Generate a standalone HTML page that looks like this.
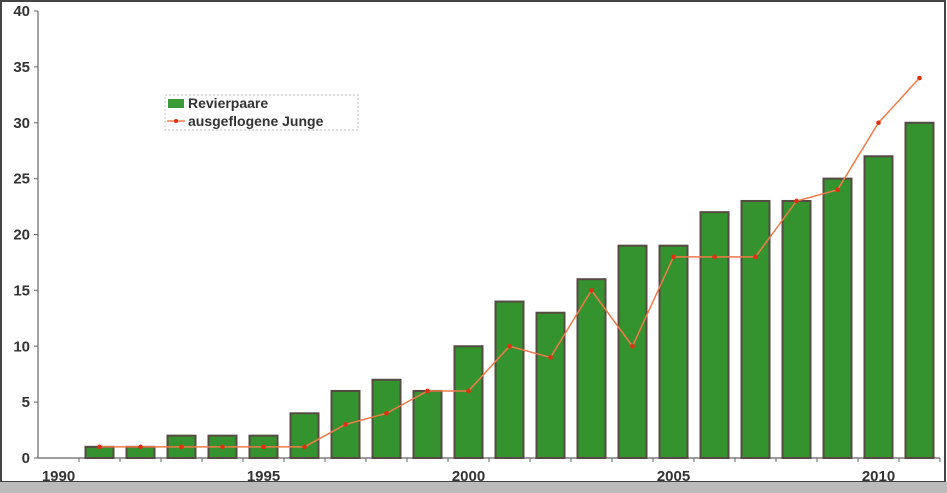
<!DOCTYPE html>
<html><head><meta charset="utf-8"><style>
html,body{margin:0;padding:0;background:#fff}
svg{display:block}
text{font-family:"Liberation Sans",sans-serif;font-weight:bold;fill:#333}
</style></head><body>
<svg width="947" height="493" viewBox="0 0 947 493">
<rect x="0" y="0" width="947" height="493" fill="#fff"/>
<rect x="1" y="1" width="944" height="481" fill="none" stroke="#444" stroke-width="2"/>
<rect x="0" y="482" width="947" height="11" fill="#bbb"/>
<g id="plot"></g>
<g>
<rect x="165" y="95" width="193" height="35" fill="#fff" stroke="#bbb" stroke-dasharray="2,2"/>
<rect x="168" y="99" width="16" height="9" fill="#3a9a3a"/>
<text x="188" y="108" font-size="14">Revierpaare</text>
<line x1="167" y1="121" x2="185" y2="121" stroke="#f07a4a" stroke-width="1.5"/>
<circle cx="176" cy="121" r="2" fill="#e03010"/>
<text x="188" y="126" font-size="14">ausgeflogene Junge</text>
</g>
</svg>
<script>
const years = [1990,1991,1992,1993,1994,1995,1996,1997,1998,1999,2000,2001,2002,2003,2004,2005,2006,2007,2008,2009,2010,2011];
const pairs = [0,1,1,2,2,2,4,6,7,6,10,14,13,16,19,19,22,23,23,25,27,30];
const young = [null,1,1,1,1,1,1,3,4,6,6,10,9,15,10,18,18,18,23,24,30,34];
const yTicks = [0,5,10,15,20,25,30,35,40];
const xLabels = [1990,1995,2000,2005,2010];

const NS='http://www.w3.org/2000/svg';
const g=document.getElementById('plot');
const x0=38, step=41, yZero=458, yTop=11, yMax=40;
const xc=i=>x0+step*i+step/2;
const yv=v=>yZero-(v/yMax)*(yZero-yTop);
function mk(t,a){const e=document.createElementNS(NS,t);for(const k in a)e.setAttribute(k,a[k]);g.appendChild(e);return e;}

let e=mk('line',{x1:x0,y1:yTop,x2:x0,y2:yZero,stroke:'#666','stroke-width':1.2});


e=mk('line',{x1:x0,y1:yZero,x2:x0+step*years.length,y2:yZero,stroke:'#666','stroke-width':1.2});



yTicks.forEach(v=>{
  let t=mk('line',{x1:x0-4,y1:yv(v),x2:x0,y2:yv(v),stroke:'#666'});
  
  
  let l=mk('text',{x:x0-8,y:yv(v)+5,'text-anchor':'end','font-size':15});
  l.textContent=v;
  
  
});
years.forEach((y,i)=>{
  let t=mk('line',{x1:x0+step*(i+1),y1:yZero,x2:x0+step*(i+1),y2:yZero+4,stroke:'#666'});
  
  
});
xLabels.forEach(y=>{
  const i=years.indexOf(y);
  let l=mk('text',{x:xc(i),y:yZero+23,'text-anchor':'middle','font-size':15});
  l.textContent=y;
  
  
});
pairs.forEach((v,i)=>{
  if(v<=0)return;
  let b=mk('rect',{x:xc(i)-14,y:yv(v),width:28,height:yZero-yv(v),fill:'#35932f',stroke:'#574a42','stroke-width':2});
  
  
});
let pts=[];
young.forEach((v,i)=>{if(v!==null)pts.push(xc(i)+','+yv(v));});
let pl=mk('polyline',{points:pts.join(' '),fill:'none',stroke:'#f07a4a','stroke-width':1.5});


young.forEach((v,i)=>{
  if(v===null)return;
  let c=mk('circle',{cx:xc(i),cy:yv(v),r:2.3,fill:'#e03010'});
  
  
});
</script>
</body></html>
